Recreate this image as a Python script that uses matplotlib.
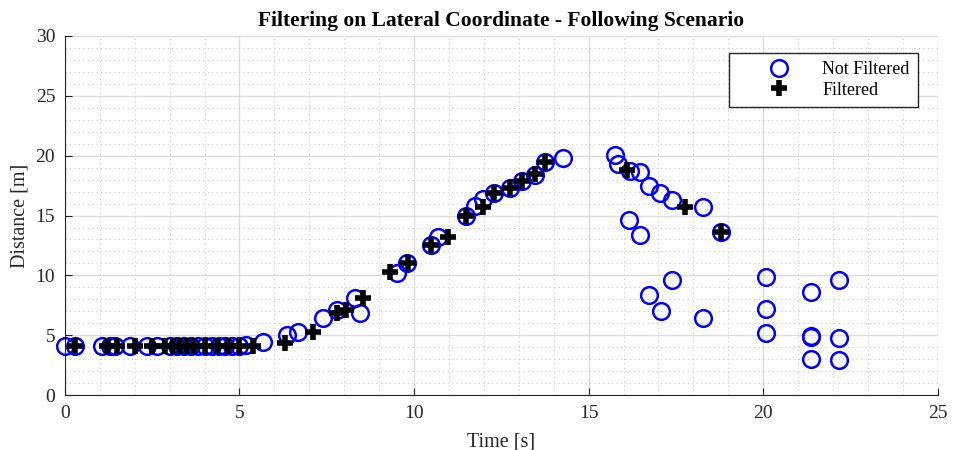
import matplotlib.pyplot as plt
from matplotlib.ticker import MultipleLocator

# values
raw_t = [0.0, 0.3, 1.05, 1.3, 1.43, 1.86, 2.35, 2.65, 3.0, 3.2, 3.4, 3.6, 3.8, 4.0,
         4.2, 4.4, 4.6, 4.8, 5.0, 5.2, 5.67, 6.36, 6.67, 7.39, 7.8, 8.3, 8.45,
         9.5, 9.8, 10.5, 10.7, 11.48, 11.74, 11.97, 12.3, 12.74, 13.1, 13.46,
         13.75, 14.26, 15.75, 15.84, 16.18, 16.47, 16.72, 17.04, 17.38, 18.27,
         18.8, 16.15, 16.47, 17.38, 16.72, 17.07, 18.27, 20.07, 20.07, 20.07,
         21.36, 21.36, 21.36, 21.36, 22.17, 22.17, 22.17]
raw_d = [4.1, 4.1, 4.1, 4.1, 4.1, 4.1, 4.1, 4.1, 4.1, 4.1, 4.1, 4.1, 4.1, 4.1,
         4.1, 4.1, 4.1, 4.1, 4.1, 4.2, 4.4, 5.0, 5.3, 6.4, 7.1, 8.1, 6.9,
         10.2, 11.0, 12.5, 13.2, 14.95, 15.8, 16.4, 16.9, 17.3, 17.9, 18.4,
         19.5, 19.8, 20.1, 19.3, 18.7, 18.6, 17.5, 16.9, 16.3, 15.7,
         13.6, 14.6, 13.4, 9.6, 8.4, 7.0, 6.4, 9.85, 7.2, 5.2,
         8.6, 4.85, 4.95, 3.0, 9.6, 4.75, 2.9]

filt_t = [0.3, 1.2, 1.5, 2.0, 2.5, 2.86, 3.1, 3.3, 3.5, 3.7, 4.0, 4.35, 4.67,
          5.0, 5.38, 6.3, 7.1, 7.8, 8.05, 8.53, 9.3, 9.82, 10.5, 10.97, 11.48,
          11.97, 12.3, 12.74, 13.1, 13.46, 13.75, 16.1, 17.75, 18.8]
filt_d = [4.1, 4.1, 4.1, 4.1, 4.1, 4.1, 4.1, 4.1, 4.1, 4.1, 4.1, 4.1, 4.1,
          4.1, 4.1, 4.35, 5.3, 6.9, 7.1, 8.1, 10.3, 11.0, 12.5, 13.2, 14.95,
          15.7, 16.9, 17.3, 17.9, 18.5, 19.5, 18.8, 15.7, 13.6]

plt.rcParams['font.family'] = ['Liberation Serif', 'DejaVu Serif']

fig = plt.figure(figsize=(9.54, 4.5), dpi=100)
ax = fig.add_axes([0.068, 0.122, 0.915, 0.798])

ax.plot(raw_t, raw_d, 'o', ms=12, mfc='none', mec='#0000ff', mew=1.8,
        label='Not Filtered', clip_on=False)
ax.plot(filt_t, filt_d, '+', ms=11, mec='black', mew=4, label='Filtered',
        clip_on=False)

ax.set_xlim(0, 25)
ax.set_ylim(0, 30)
ax.xaxis.set_major_locator(MultipleLocator(5))
ax.yaxis.set_major_locator(MultipleLocator(5))
ax.xaxis.set_minor_locator(MultipleLocator(1))
ax.yaxis.set_minor_locator(MultipleLocator(1))
ax.grid(which='major', color='#dcdcdc', lw=1)
ax.grid(which='minor', color='#c8c8c8', lw=0.8, ls=(0, (1, 3)))
ax.set_axisbelow(True)
ax.tick_params(which='major', direction='in', length=5, labelsize=14,
               colors='#262626', top=False, right=False, pad=7)
ax.tick_params(which='minor', length=0)
for s in ['top', 'right']:
    ax.spines[s].set_visible(False)
for s in ['left', 'bottom']:
    ax.spines[s].set_color('#262626')

ax.set_title('Filtering on Lateral Coordinate - Following Scenario',
             fontsize=15.5, fontweight='bold', pad=7)
ax.set_xlabel('Time [s]', fontsize=14.5, color='#262626', labelpad=8)
ax.set_ylabel('Distance [m]', fontsize=14.5, color='#262626', labelpad=4)

leg = ax.legend(loc='upper right', bbox_to_anchor=(0.977, 0.953),
                borderaxespad=0, fontsize=13, fancybox=False,
                edgecolor='#262626', framealpha=1, handletextpad=0.1,
                handlelength=4.6, borderpad=0.45, labelspacing=0.2)
leg.get_frame().set_linewidth(1)

fig.savefig('out.png', dpi=100)
